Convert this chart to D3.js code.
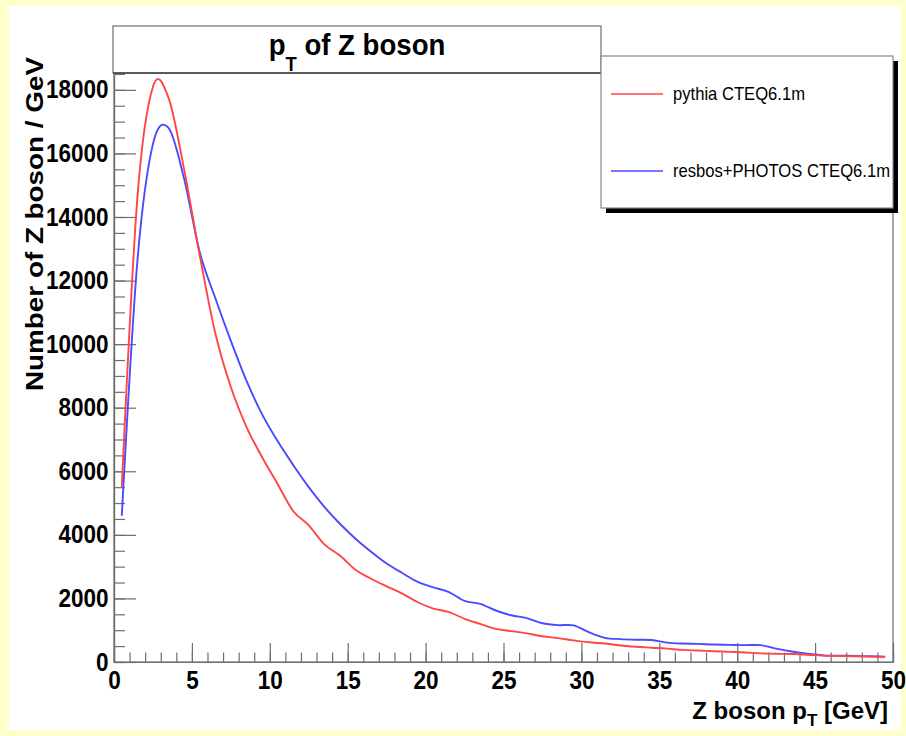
<!DOCTYPE html>
<html>
<head>
<meta charset="utf-8">
<script src="https://cdn.jsdelivr.net/npm/d3@7"></script>
<style>
  html, body { margin: 0; padding: 0; background: #FFFFCC; }
  svg { display: block; }
  text { font-family: "Liberation Sans", Arial, Helvetica, sans-serif; fill: #000; }
</style>
</head>
<body>
<svg id="chart" width="906" height="736"></svg>
<script>
// Z boson transverse momentum spectrum, 1 GeV bins
const binCenters = [0.5, 1.5, 2.5, 3.5, 4.5, 5.5, 6.5, 7.5, 8.5, 9.5,
  10.5, 11.5, 12.5, 13.5, 14.5, 15.5, 16.5, 17.5, 18.5, 19.5,
  20.5, 21.5, 22.5, 23.5, 24.5, 25.5, 26.5, 27.5, 28.5, 29.5,
  30.5, 31.5, 32.5, 33.5, 34.5, 35.5, 36.5, 37.5, 38.5, 39.5,
  40.5, 41.5, 42.5, 43.5, 44.5, 45.5, 46.5, 47.5, 48.5, 49.5];

const pythia = [5500, 14600, 18100, 17750, 15500, 12800, 10350, 8650, 7400, 6450,
  5600, 4750, 4300, 3700, 3350, 2900, 2620, 2380, 2150, 1880,
  1680, 1570, 1360, 1200, 1040, 970, 900, 810, 750, 680,
  620, 580, 520, 480, 450, 420, 380, 360, 340, 320,
  300, 270, 260, 250, 230, 200, 190, 180, 170, 160];

const resbos = [4600, 12600, 16300, 16800, 15200, 12900, 11450, 10100, 8850, 7800,
  6950, 6200, 5500, 4880, 4350, 3880, 3470, 3100, 2800, 2520,
  2350, 2200, 1920, 1830, 1620, 1470, 1380, 1220, 1160, 1150,
  930, 760, 720, 700, 690, 610, 580, 570, 550, 540,
  530, 530, 420, 330, 260, 210, 200, 190, 180, 170];

const seriesNames = ["pythia CTEQ6.1m", "resbos+PHOTOS CTEQ6.1m"];
const seriesColors = ["#ff4646", "#4a4aff"];

const xMajorTicks = [0, 5, 10, 15, 20, 25, 30, 35, 40, 45, 50];
const yMajorTicks = [0, 2000, 4000, 6000, 8000, 10000, 12000, 14000, 16000, 18000];

const titleText = "of Z boson";
const xTitle = "Z boson p";
const yTitle = "Number of Z boson  / GeV";

const svg = d3.select("#chart");

// white canvas
svg.append("rect").attr("x", 9).attr("y", 6).attr("width", 892).attr("height", 724)
  .attr("fill", "#fff");

const frame = { left: 114, right: 893, top: 73, bottom: 662 };
const x = d3.scaleLinear().domain([0, 50]).range([frame.left, frame.right]);
const y = d3.scaleLinear().domain([0, 18530]).range([frame.bottom, frame.top]);

const axisColor = "#6e6e6e";

// frame
svg.append("rect")
  .attr("x", frame.left).attr("y", frame.top)
  .attr("width", frame.right - frame.left).attr("height", frame.bottom - frame.top)
  .attr("fill", "#fff").attr("stroke", axisColor).attr("stroke-width", 1.2);

// minor ticks
const xMinor = svg.append("g").attr("transform", `translate(0,${frame.bottom})`)
  .call(d3.axisBottom(x).tickValues(d3.range(0, 51, 1)).tickSize(-9.5).tickFormat("").tickSizeOuter(0));
const yMinor = svg.append("g").attr("transform", `translate(${frame.left},0)`)
  .call(d3.axisLeft(y).tickValues(d3.range(0, 18530, 500)).tickSize(-11).tickFormat("").tickSizeOuter(0));

// major ticks with labels
const xAxis = svg.append("g").attr("transform", `translate(0,${frame.bottom})`)
  .call(d3.axisBottom(x).tickValues(xMajorTicks).tickSize(-19).tickPadding(9).tickSizeOuter(0)
    .tickFormat(d3.format("d")));
const yAxis = svg.append("g").attr("transform", `translate(${frame.left},0)`)
  .call(d3.axisLeft(y).tickValues(yMajorTicks).tickSize(-22).tickPadding(6).tickSizeOuter(0)
    .tickFormat(d3.format("d")));

[xMinor, yMinor, xAxis, yAxis].forEach(g => {
  g.selectAll("path.domain").attr("stroke", axisColor).attr("stroke-width", 1.2);
  g.selectAll(".tick line").attr("stroke", axisColor).attr("stroke-width", 1.2);
});
[xAxis, yAxis].forEach(g => {
  g.selectAll(".tick text")
    .attr("font-size", 25)
    .attr("font-weight", "bold")
    .attr("font-family", "Liberation Sans, Arial, sans-serif")
    .attr("fill", "#111")
    .attr("transform", "scale(0.9,1)");
});

// curves
const line = d3.line()
  .x((d, i) => x(binCenters[i]))
  .y(d => y(d))
  .curve(d3.curveCatmullRom.alpha(0));

[resbos, pythia].forEach((vals, k) => {
  const idx = k === 0 ? 1 : 0;
  svg.append("path")
    .datum(vals)
    .attr("d", line)
    .attr("fill", "none")
    .attr("stroke", seriesColors[idx])
    .attr("stroke-width", 1.9)
    .attr("stroke-linejoin", "round");
});

// title box
svg.append("rect").attr("x", 113).attr("y", 26).attr("width", 488).attr("height", 47)
  .attr("fill", "#fff").attr("stroke", axisColor).attr("stroke-width", 1.2);
svg.append("line").attr("x1", 113).attr("x2", 601).attr("y1", 73).attr("y2", 73)
  .attr("stroke", "#444").attr("stroke-width", 1.4);
const title = svg.append("text")
  .attr("transform", "translate(357,55) scale(0.92,1)")
  .attr("text-anchor", "middle")
  .attr("font-size", 30).attr("font-weight", "bold");
title.append("tspan").text("p");
title.append("tspan").attr("font-size", 20).attr("dy", 16).text("T");
title.append("tspan").attr("dy", -16).text(" " + titleText);

// axis titles
const xt = svg.append("text")
  .attr("x", 888).attr("y", 719)
  .attr("text-anchor", "end")
  .attr("font-size", 24).attr("font-weight", "bold");
xt.append("tspan").text(xTitle);
xt.append("tspan").attr("font-size", 17).attr("dy", 7).text("T");
xt.append("tspan").attr("dy", -7).text(" [GeV]");

svg.append("text")
  .attr("transform", "translate(43,57) rotate(-90) scale(1.16,1)")
  .attr("text-anchor", "end")
  .attr("font-size", 24).attr("font-weight", "bold")
  .text(yTitle);

// legend
const lg = { x: 601, y: 56, w: 292, h: 152 };
svg.append("rect").attr("x", lg.x + 5).attr("y", lg.y + 5).attr("width", lg.w).attr("height", lg.h)
  .attr("fill", "#000");
svg.append("rect").attr("x", lg.x).attr("y", lg.y).attr("width", lg.w).attr("height", lg.h)
  .attr("fill", "#fff").attr("stroke", "#888").attr("stroke-width", 1.2);
const legendRows = [94, 171];
seriesNames.forEach((name, i) => {
  svg.append("line")
    .attr("x1", 611).attr("x2", 663)
    .attr("y1", legendRows[i]).attr("y2", legendRows[i])
    .attr("stroke", seriesColors[i]).attr("stroke-width", 1.6);
  svg.append("text")
    .attr("transform", `translate(673,${legendRows[i] + 6}) scale(0.95,1)`)
    .attr("font-size", 17.5)
    .attr("fill", "#222")
    .text(name);
});
</script>
</body>
</html>
